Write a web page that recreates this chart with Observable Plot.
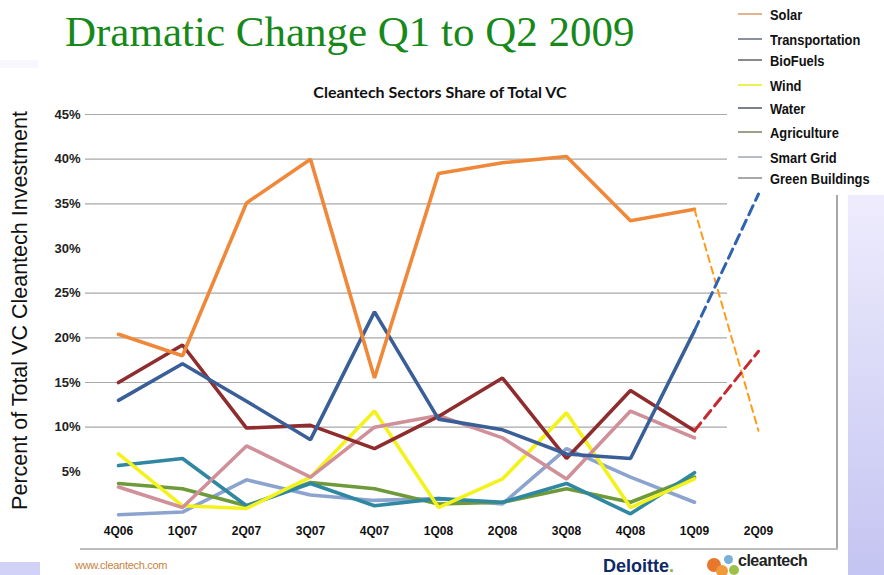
<!DOCTYPE html>
<html>
<head>
<meta charset="utf-8">
<script src="https://cdn.jsdelivr.net/npm/d3@7"></script>
<script src="https://cdn.jsdelivr.net/npm/@observablehq/plot@0.6"></script>
<style>
  html, body { margin: 0; padding: 0; background: #fff; }
  #wrap { position: relative; width: 884px; height: 575px; overflow: hidden; background: #fff; font-family: "Liberation Sans", Arial, sans-serif; }
  .abs { position: absolute; }
</style>
</head>
<body>
<div id="wrap">
  <div class="abs" style="left:848px;top:195px;width:36px;height:380px;background:linear-gradient(#eeecfc,#c4c4f2);"></div>
  <div class="abs" style="left:0;top:562px;width:40px;height:13px;background:#d2d2f8;"></div>
  <div class="abs" style="left:0;top:60px;width:38px;height:8px;background:#f7f7fd;"></div>
  <div class="abs" style="left:836px;top:195px;width:2px;height:355px;background:#a8a8a8;"></div>
  <div class="abs" style="left:80px;top:548px;width:758px;height:2px;background:#bdbdbd;"></div>
  <div id="chart" class="abs" style="left:0;top:0;"></div>
  <div class="abs" style="left:65px;top:7px;font-family:'Liberation Serif','Times New Roman',serif;font-size:43px;color:#17891a;white-space:nowrap;">Dramatic Change Q1 to Q2 2009</div>
  <div class="abs" style="left:0;top:82px;width:880px;text-align:center;font-family:Lato,'Open Sans',sans-serif;font-weight:bold;font-size:16px;color:#111;">Cleantech Sectors Share of Total VC</div>
  <div class="abs" style="left:-180px;top:298px;width:400px;text-align:center;transform:rotate(-90deg);font-family:'Liberation Sans',Arial,sans-serif;font-size:21.5px;color:#111;white-space:nowrap;">Percent of Total VC Cleantech Investment</div>
  <div id="legend" class="abs" style="left:738px;top:4px;"></div>
  <div class="abs" style="left:75px;top:559px;font-size:11px;color:#c8823e;letter-spacing:-0.3px;">www.cleantech.com</div>
  <div class="abs" style="left:603px;top:556px;font-size:18px;font-weight:bold;color:#0e2a66;">Deloitte<span style="color:#8db43e">.</span></div>
  <div class="abs" style="left:707px;top:558px;width:14px;height:14px;border-radius:50%;background:#e8762c;"></div>
  <div class="abs" style="left:716px;top:565px;width:12px;height:12px;border-radius:50%;background:#f09a3c;"></div>
  <div class="abs" style="left:724px;top:555px;width:9px;height:9px;border-radius:50%;background:#7ab0d8;"></div>
  <div class="abs" style="left:729px;top:565px;width:10px;height:10px;border-radius:50%;background:#9cc04a;"></div>
  <div class="abs" style="left:738px;top:552px;font-size:16px;font-weight:bold;color:#222;letter-spacing:-0.5px;">cleantech</div>
</div>
<script>
const quarters = ["4Q06","1Q07","2Q07","3Q07","4Q07","1Q08","2Q08","3Q08","4Q08","1Q09","2Q09"];
const sectors = ["Solar","Transportation","BioFuels","Wind","Water","Agriculture","Smart Grid","Green Buildings"];
const colors = ["#f0883a","#3a5f98","#8e2c2e","#f4f21c","#2f87a2","#6f9a3a","#8ca3d0","#d0909a"];
const legendColors = ["#e3b48e","#8a8fa0","#8a8a8a","#eeee55","#7c8090","#9aa08a","#b8bcc8","#a8a8aa"];

const solar          = [20.4, 18.0, 35.1, 40.0, 15.5, 38.4, 39.6, 40.3, 33.1, 34.4, 9.6];
const transportation = [13.0, 17.1, 12.9, 8.6, 22.9, 10.9, 9.7, 7.0, 6.5, 20.8, 36.1];
const biofuels       = [15.0, 19.2, 9.9, 10.2, 7.6, 11.2, 15.5, 6.5, 14.1, 9.6, 18.5];
const wind           = [7.0, 1.2, 0.9, 4.4, 11.8, 1.0, 4.2, 11.6, 1.0, 4.2, null];
const water          = [5.7, 6.5, 1.2, 3.7, 1.2, 2.0, 1.6, 3.7, 0.3, 4.9, null];
const agriculture    = [3.7, 3.1, 1.2, 3.8, 3.1, 1.4, 1.6, 3.1, 1.6, 4.4, null];
const smartGrid      = [0.2, 0.5, 4.1, 2.4, 1.8, 2.0, 1.4, 7.6, 4.4, 1.6, null];
const greenBuildings = [3.3, 1.0, 7.9, 4.4, 10.0, 11.3, 8.8, 4.2, 11.8, 8.8, null];

const yTicks = [5, 10, 15, 20, 25, 30, 35, 40, 45];
const gridTicks = [10, 15, 20, 25, 35, 40, 45];
const dashColors = {"Solar": "#ff9a1a", "Transportation": "#2f63b0", "BioFuels": "#c42a30"};
const dashWidths = {"Solar": 2, "Transportation": 3, "BioFuels": 3};

const seriesValues = [solar, transportation, biofuels, wind, water, agriculture, smartGrid, greenBuildings];
const solid = [];
const dashed = [];
sectors.forEach((s, i) => {
  seriesValues[i].forEach((v, j) => {
    if (v == null) return;
    if (j <= 9) solid.push({sector: s, quarter: quarters[j], value: v});
    if (j >= 9 && seriesValues[i][10] != null) dashed.push({sector: s, quarter: quarters[j], value: v});
  });
});
const drawOrder = ["Smart Grid","Agriculture","Water","Wind","Green Buildings","BioFuels","Transportation","Solar"];

const marks = [
  Plot.gridY(gridTicks, {stroke: "#8c8c8c", strokeOpacity: 0.75, strokeWidth: 1.2}),
  Plot.axisY(yTicks, {tickSize: 0, tickPadding: 5, tickFormat: d => d + "%", fontSize: 13, fontWeight: "bold", fill: "#222", label: null}),
  Plot.axisX({tickSize: 0, tickPadding: 10, fontSize: 12, fontWeight: "bold", fill: "#111", label: null}),
];
for (const s of drawOrder) {
  const i = sectors.indexOf(s);
  marks.push(Plot.line(solid.filter(d => d.sector === s), {x: "quarter", y: "value", stroke: colors[i], strokeWidth: 3.6, strokeLinejoin: "miter", strokeLinecap: "round"}));
}
for (const s of Object.keys(dashColors)) {
  marks.push(Plot.line(dashed.filter(d => d.sector === s), {x: "quarter", y: "value", stroke: dashColors[s], strokeWidth: dashWidths[s], strokeDasharray: s === "Solar" ? "7,5" : "10,6"}));
}

const chart = Plot.plot({
  width: 884,
  height: 575,
  marginLeft: 85,
  marginRight: 157,
  marginTop: 114,
  marginBottom: 59,
  style: {background: "transparent", fontFamily: "'Liberation Sans', Arial, sans-serif"},
  x: {type: "point", domain: quarters, range: [117, 759], padding: 0},
  y: {domain: [0, 45], range: [516, 114]},
  marks
});
document.getElementById("chart").appendChild(chart);

const legendTops = [14, 39, 60, 85, 108, 132, 157, 178];
const lg = document.getElementById("legend");
sectors.forEach((s, i) => {
  const row = document.createElement("div");
  row.style.cssText = `position:absolute;left:0;top:${legendTops[i] - 14}px;white-space:nowrap;display:flex;align-items:center;height:20px;`;
  row.innerHTML = `<span style="display:inline-block;width:24px;height:2.5px;background:${legendColors[i]};margin-right:8px;"></span><span style="display:inline-block;transform:scaleX(0.86);transform-origin:left center;font-family:'Liberation Sans',Arial,sans-serif;font-weight:bold;font-size:15px;color:#111;">${s}</span>`;
  lg.appendChild(row);
});
</script>
</body>
</html>
